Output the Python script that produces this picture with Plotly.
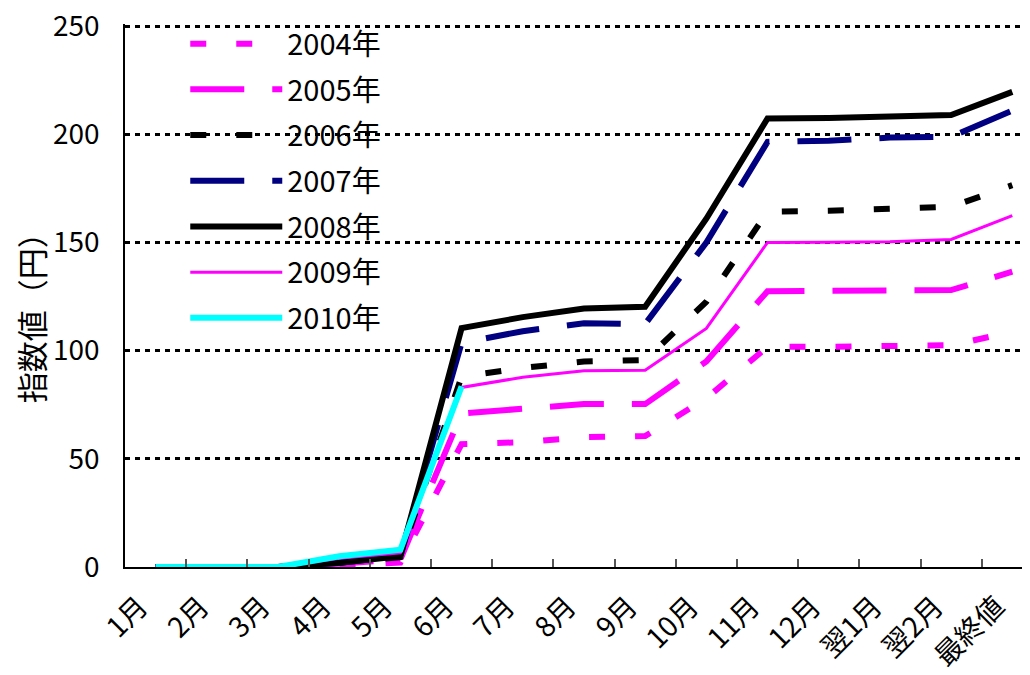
import plotly.graph_objects as go

categories = ["1月", "2月", "3月", "4月", "5月", "6月", "7月", "8月", "9月",
              "10月", "11月", "12月", "翌1月", "翌2月", "最終値"]

y2004 = [0, 0, 0, 1, 2, 56.8, 57.7, 60, 60.5, 78, 101.8, 101.8, 102.3, 102.5, 108.7]
y2005 = [0, 0, 0, 1.5, 3.5, 71, 72.9, 75.3, 75.3, 95, 127.5, 127.5, 127.5, 128, 136.5]
y2006 = [0, 0, 0, 2, 4.5, 88, 92, 95, 95.7, 122.6, 164.2, 164.7, 165.3, 166.5, 176.5]
y2007 = [0, 0, 0, 2, 5, 103.6, 109, 112.7, 112.3, 150, 196.5, 197, 198.5, 198.9, 211]
y2008 = [0, 0, 0, 2, 5, 110.4, 115.5, 119.5, 120.3, 161, 207.3, 207.6, 208, 208.9, 219.6]
y2009 = [0, 0, 0, 4, 6.5, 83, 87.7, 90.7, 91, 110.3, 150, 150.1, 150.3, 151.4, 162.4]
y2010 = [0, 0, 0, 5, 8, 83.5]

series_names = ["2004年", "2005年", "2006年", "2007年", "2008年", "2009年", "2010年"]
series_values = [y2004, y2005, y2006, y2007, y2008, y2009, y2010]

y_ticks = [0, 50, 100, 150, 200, 250]

styles = [
    dict(color="#FF00FF", width=6, dash="16px,30px"),
    dict(color="#FF00FF", width=6, dash="54px,28px"),
    dict(color="#000000", width=6, dash="16px,30px"),
    dict(color="#000080", width=6, dash="54px,28px"),
    dict(color="#000000", width=6, dash="solid"),
    dict(color="#FF00FF", width=3, dash="solid"),
    dict(color="#00FFFF", width=6, dash="solid"),
]

FONT = "Noto Sans CJK JP"

fig = go.Figure()
for name, vals, st in zip(series_names, series_values, styles):
    fig.add_trace(go.Scatter(
        x=categories[:len(vals)], y=vals, name=name, mode="lines",
        line=dict(color=st["color"], width=st["width"], dash=st["dash"]),
        legendgroup=name,
    ))

fig.update_layout(
    width=1030, height=675,
    margin=dict(l=117, r=0, t=16, b=116, pad=0, autoexpand=False),
    paper_bgcolor="white", plot_bgcolor="white",
    font=dict(family=FONT, size=28, color="black"),
    showlegend=True,
    legend=dict(
        x=0.066, y=1.0105, xanchor="left", yanchor="top",
        bgcolor="rgba(0,0,0,0)", borderwidth=0,
        font=dict(family=FONT, size=29, color="black"),
        tracegroupgap=5, itemwidth=92,
    ),
    xaxis=dict(
        type="category", categoryorder="array", categoryarray=categories,
        range=[-0.5, 14.42], automargin=False,
        showline=True, linecolor="black", linewidth=2,
        ticks="inside", ticklen=8, tickcolor="#555", tickwidth=1.5,
        tickson="boundaries",
        tickangle=-45, tickfont=dict(family=FONT, size=28, color="black"),
        ticklabelshift=-16, ticklabelstandoff=10,
        showgrid=False, zeroline=False,
    ),
    yaxis=dict(
        range=[0, 251], tickvals=y_ticks, automargin=False,
        showline=True, linecolor="black", linewidth=1.5,
        ticks="inside", ticklen=5, tickcolor="black",
        tickfont=dict(family=FONT, size=28, color="black"),
        ticklabelstandoff=18, ticklabeloverflow="allow",
        showgrid=True, gridcolor="black", gridwidth=2.5, griddash="5px,5px",
        zeroline=False,
    ),
    annotations=[dict(
        text="指数値（円）", xref="paper", yref="paper",
        x=-0.104, y=0.473, showarrow=False, textangle=-90,
        font=dict(family=FONT, size=31, color="black"),
        xanchor="center", yanchor="middle",
    )],
)

fig.write_html("out.html")
